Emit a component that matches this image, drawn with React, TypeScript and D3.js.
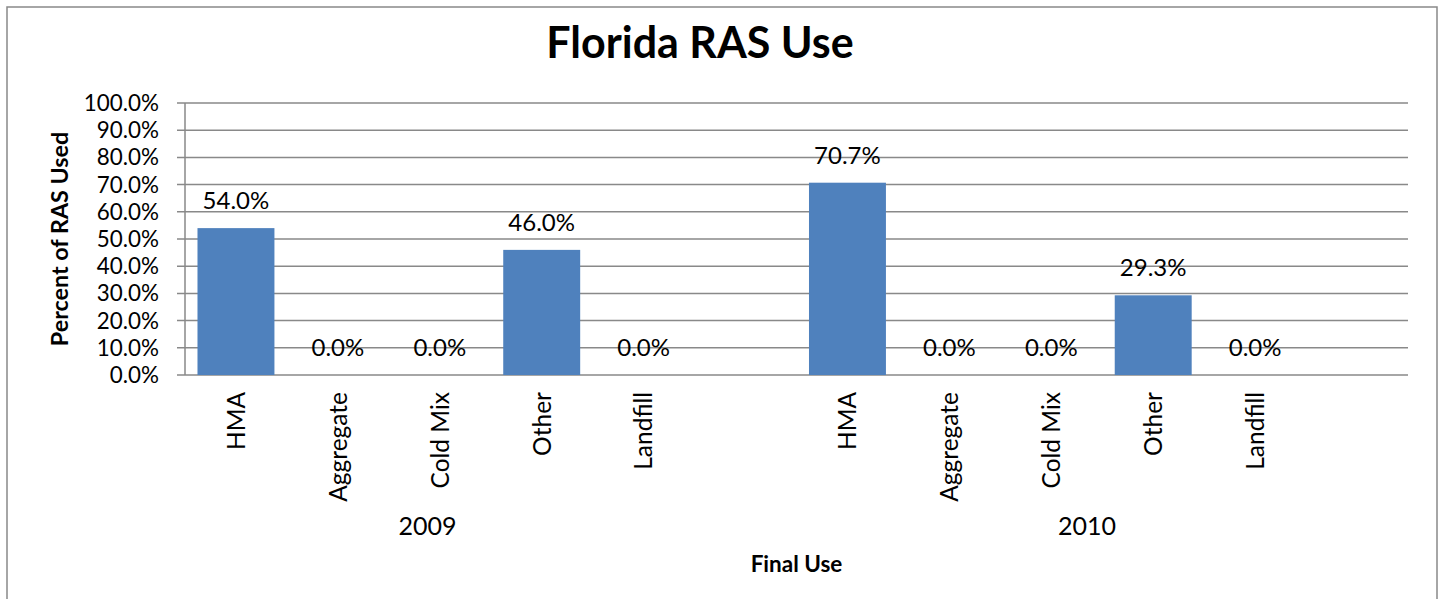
import React from "react";
import * as d3 from "d3";

const years = ["2009", "2010"];
const uses = ["HMA", "Aggregate", "Cold Mix", "Other", "Landfill"];
const values2009 = [54.0, 0.0, 0.0, 46.0, 0.0];
const values2010 = [70.7, 0.0, 0.0, 29.3, 0.0];
const yTicks = [0, 10, 20, 30, 40, 50, 60, 70, 80, 90, 100];

const W = 1443;
const H = 599;
const FONT = "Lato, 'Open Sans', 'Liberation Sans', sans-serif";
const BAR = "#4F81BD";
const GRID = "#898989";

type Row = { key: string; year: string; use: string; value: number | null };

const rows: Row[] = [];
years.forEach((yr, gi) => {
  const vals = gi === 0 ? values2009 : values2010;
  uses.forEach((u, i) => rows.push({ key: `${yr}-${u}`, year: yr, use: u, value: vals[i] }));
  rows.push({ key: `${yr}-blank`, year: yr, use: "", value: null });
});

export default function App() {
  const left = 185;
  const right = 1408;
  const top = 103;
  const bottom = 375;

  const x = d3
    .scaleBand<string>()
    .domain(rows.map((r) => r.key))
    .range([left, right])
    .paddingInner(0.245)
    .paddingOuter(0.1225);
  const step = x.step();
  const y = d3.scaleLinear().domain([0, 100]).range([bottom, top]);

  const groupOffset = [-0.12, 0.35];

  return (
    <svg
      width={W}
      height={H}
      style={{ position: "absolute", left: 0, top: 0, background: "#fff" }}
      fontFamily={FONT}
    >
      <rect x={7} y={7} width={1430} height={620} fill="#fff" stroke={GRID} strokeWidth={1.5} />
      <text x={700} y={58} textAnchor="middle" fontSize={43} fontWeight="bold" fill="#000">
        Florida RAS Use
      </text>

      {yTicks.map((t) => (
        <g key={t}>
          <line x1={left - 8} x2={right} y1={y(t)} y2={y(t)} stroke={GRID} strokeWidth={1.5} />
          <text x={left - 26} y={y(t)} dy="0.36em" textAnchor="end" fontSize={22.4} fill="#000">
            {d3.format(".1f")(t)}%
          </text>
        </g>
      ))}
      <line x1={left} x2={left} y1={top} y2={bottom} stroke={GRID} strokeWidth={1.5} />

      {rows.map((r) =>
        r.value === null ? null : (
          <g key={r.key}>
            {r.value > 0 && (
              <rect
                x={x(r.key)!}
                y={y(r.value)}
                width={x.bandwidth()}
                height={bottom - y(r.value)}
                fill={BAR}
              />
            )}
            <text
              x={x(r.key)! + x.bandwidth() / 2}
              y={y(r.value) - 19}
              textAnchor="middle"
              fontSize={24}
              fill="#000"
            >
              {d3.format(".1f")(r.value)}%
            </text>
            <text
              transform={`translate(${x(r.key)! + x.bandwidth() / 2},${bottom + 17}) rotate(-90)`}
              textAnchor="end"
              dy="0.36em"
              fontSize={24.5}
              fill="#000"
            >
              {r.use}
            </text>
          </g>
        )
      )}

      {years.map((yr, gi) => {
        const first = x(`${yr}-${uses[0]}`)! + x.bandwidth() / 2;
        const last = x(`${yr}-${uses[uses.length - 1]}`)! + x.bandwidth() / 2;
        const cx = (first + last) / 2 + groupOffset[gi] * step;
        return (
          <text key={yr} x={cx} y={535} textAnchor="middle" fontSize={25} fill="#000">
            {yr}
          </text>
        );
      })}

      <text x={(left + right) / 2} y={572} textAnchor="middle" fontSize={22.5} fontWeight="bold" fill="#000">
        Final Use
      </text>
      <text
        transform={`translate(60,${(top + bottom) / 2}) rotate(-90)`}
        textAnchor="middle"
        dy="0.36em"
        fontSize={23.3}
        fontWeight="bold"
        fill="#000"
      >
        Percent of RAS Used
      </text>
    </svg>
  );
}
